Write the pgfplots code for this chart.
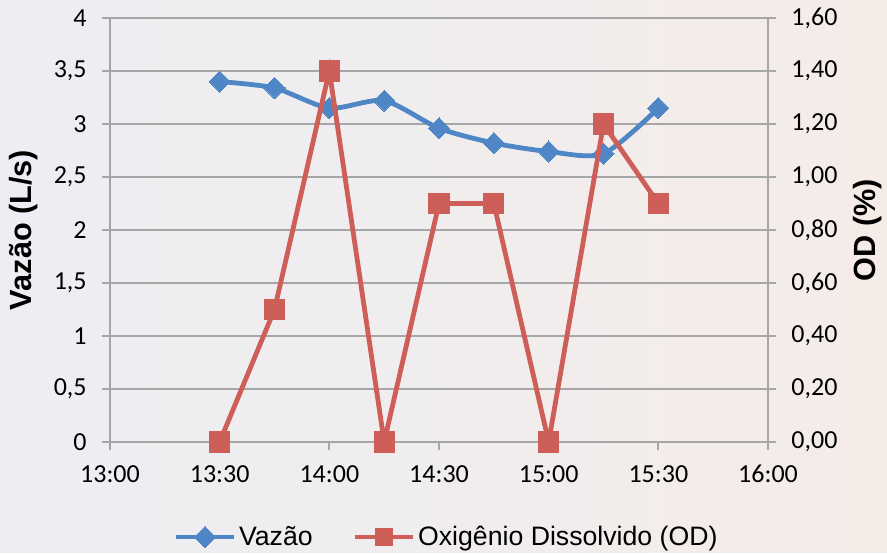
\documentclass[border=0pt]{standalone}
\usepackage{pgfplots}
\pgfplotsset{compat=1.18}
\usepackage{fontspec}
\setmainfont{Liberation Sans}
\newfontfamily\calibri{Carlito}
\definecolor{vblue}{RGB}{79,134,198}
\definecolor{odred}{RGB}{206,94,88}
\definecolor{gridgray}{RGB}{166,166,166}
\definecolor{bgl}{RGB}{236,238,243}
\definecolor{bgr}{RGB}{245,236,232}
\begin{document}
\begin{tikzpicture}
\shade[left color=bgl,right color=bgr] (0pt,0pt) rectangle (665.25pt,414pt);
\begin{axis}[
  at={(82.5pt,82.5pt)}, anchor=south west,
  scale only axis, width=493.5pt, height=318pt,
  xmin=0, xmax=180, ymin=0, ymax=4,
  xtick={0,30,60,90,120,150,180},
  xticklabels={13:00,13:30,14:00,14:30,15:00,15:30,16:00},
  ytick={0,0.5,1,1.5,2,2.5,3,3.5,4},
  /pgf/number format/use comma,
  /pgf/number format/assume math mode=true,
  axis x line*=bottom, axis y line*=left,
  axis line style={gridgray, line width=1.5pt, -},
  ymajorgrids, grid style={gridgray, line width=1.5pt},
  major tick length=6pt, tick style={gridgray, line width=1.5pt},
  tick align=outside,
  ticklabel style={font=\calibri\fontsize{19.5}{20}\selectfont, text=black},
  xticklabel style={yshift=-8pt},
  yticklabel style={xshift=-8pt},
  ylabel={Vazão (L/s)},
  ylabel style={at={(axis description cs:-0.131,0.5)}, anchor=center, font=\bfseries\fontsize{23}{24}\selectfont},
  legend columns=2,
  legend style={at={(axis description cs:0.512,-0.224)}, anchor=center, draw=none, fill=none,
    font=\fontsize{20}{24}\selectfont, /tikz/every even column/.append style={column sep=28pt}},
  legend image code/.code={\draw[mark repeat=2,mark phase=2] plot coordinates {(0pt,0pt) (21.75pt,0pt) (43.5pt,0pt)};},
]
\addplot[vblue, line width=3.6pt, smooth, tension=0.45, mark=square*, mark size=5.6pt,
  mark options={rotate=45, solid, line width=0pt, fill=vblue}]
  coordinates {(30,3.40) (45,3.34) (60,3.15) (75,3.22) (90,2.96) (105,2.82) (120,2.74) (135,2.72) (150,3.15)};
\addlegendentry{Vazão}
\addlegendimage{odred, line width=3.6pt, mark=square*, mark size=6.5pt, mark options={solid, line width=0pt, fill=odred}}
\addlegendentry{Oxigênio Dissolvido (OD)}
\end{axis}
\begin{axis}[
  at={(82.5pt,82.5pt)}, anchor=south west,
  scale only axis, width=493.5pt, height=318pt,
  xmin=0, xmax=180, ymin=0, ymax=1.6,
  axis x line=none, axis y line*=right,
  ytick={0,0.2,0.4,0.6,0.8,1,1.2,1.4,1.6},
  /pgf/number format/.cd, fixed, zerofill, precision=2, use comma, assume math mode=true, /pgfplots/.cd,
  axis line style={gridgray, line width=1.5pt, -},
  major tick length=6pt, tick style={gridgray, line width=1.5pt},
  tick align=outside,
  ticklabel style={font=\calibri\fontsize{19.5}{20}\selectfont, text=black},
  yticklabel style={xshift=8pt},
  ylabel={OD (\%)},
  ylabel style={at={(axis description cs:1.152,0.5)}, anchor=center, rotate=0, font=\bfseries\fontsize{23}{24}\selectfont},
]
\addplot[odred, line width=3.6pt, mark=square*, mark size=7.6pt, mark options={solid, line width=0pt, fill=odred}]
  coordinates {(30,0) (45,0.5) (60,1.4) (75,0) (90,0.9) (105,0.9) (120,0) (135,1.2) (150,0.9)};
\end{axis}
\end{tikzpicture}
\end{document}
